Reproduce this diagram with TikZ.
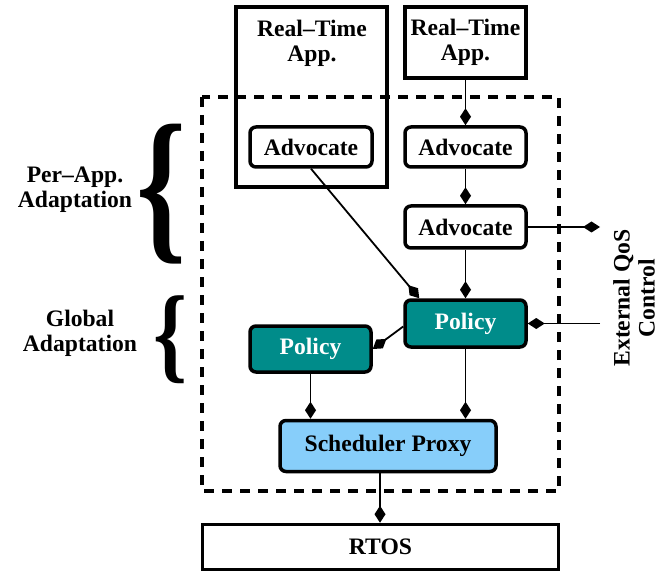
\documentclass[tikz,border=0pt]{standalone}
\usepackage{fontspec}
\setmainfont{Liberation Serif}
\usetikzlibrary{arrows.meta,calc}
\definecolor{tealfill}{RGB}{0,140,138}
\definecolor{skyfill}{RGB}{135,206,250}
\begin{document}
\begin{tikzpicture}[x=1pt,y=-1pt,
  every node/.style={font=\fontsize{23.6}{25}\selectfont\bfseries, inner sep=0pt},
  appbox/.style={draw, line width=3.5pt, fill=white},
  rbox/.style={draw, line width=3.5pt, rounded corners=6pt, fill=white},
  polbox/.style={rbox, fill=tealfill, text=white},
  schbox/.style={rbox, fill=skyfill},
  conn/.style={line width=1.8pt, -{Diamond[length=17pt,width=11pt]}},
  dashbox/.style={line width=3.5pt, dash pattern=on 10pt off 8pt}
]
\useasboundingbox (0,0) rectangle (672,572);
% left app box
\node[appbox, minimum width=151pt, minimum height=180pt] (rtl) at (311.5,97) {};
\node[align=center] (rtltxt) at (312,43) {Real--Time\\App.};
% right app box
\node[appbox, minimum width=121pt, minimum height=71pt, align=center] (rtr) at (465.5,42.5) {Real--Time\\App.};
% dashed region
\draw[dashbox] (202,97) rectangle (559,491);
% advocates
\node[rbox, minimum width=122pt, minimum height=40pt] (advl) at (311,147) {Advocate};
\node[rbox, minimum width=121pt, minimum height=40pt] (advr) at (465.5,147) {Advocate};
\node[rbox, minimum width=121pt, minimum height=42pt] (advm) at (465.5,227) {Advocate};
% policies
\node[polbox, minimum width=121pt, minimum height=47pt] (polr) at (465.5,323.5) {Policy};
\node[polbox, minimum width=121pt, minimum height=46pt] (poll) at (310.5,349) {Policy};
% scheduler
\node[schbox, minimum width=216pt, minimum height=51pt] (sch) at (388,446) {Scheduler Proxy};
% RTOS
\node[appbox, minimum width=356pt, minimum height=45pt] (rtos) at (380.5,547) {RTOS};
% external
\node[rotate=90, align=center] (ext) at (634,298) {External QoS\\Control};
\coordinate (extout) at (600,227);
\coordinate (extin) at (600,323.5);
% labels and braces
\node[align=center] (perapp) at (75,190) {Per--App.\\Adaptation};
\node[align=center] (global) at (80,333) {Global\\Adaptation};
\node (brace1) at (162,194) {\resizebox*{50pt}{140pt}{\{}};
\node (brace2) at (171,340) {\resizebox*{34pt}{88pt}{\{}};
% connectors
\draw[conn] (rtr.south) -- (advr.north);
\draw[conn] (advr.south) -- (advm.north);
\draw[conn] (advm.south) -- (polr.north);
\draw[conn] (advm.east) -- (extout);
\draw[conn] (extin) -- (polr.east);
\draw[conn] (advl.south) -- ($(polr.north west)+(16,0)$);
\draw[conn] ($(polr.west)+(0,3)$) -- (poll.east);
\draw[conn] (poll.south) -- (poll.south |- sch.north);
\draw[conn] (polr.south) -- (polr.south |- sch.north);
\draw[conn] ($(sch.south)+(-8,0)$) -- ($(sch.south |- rtos.north)+(-8,0)$);
\end{tikzpicture}
\end{document}
